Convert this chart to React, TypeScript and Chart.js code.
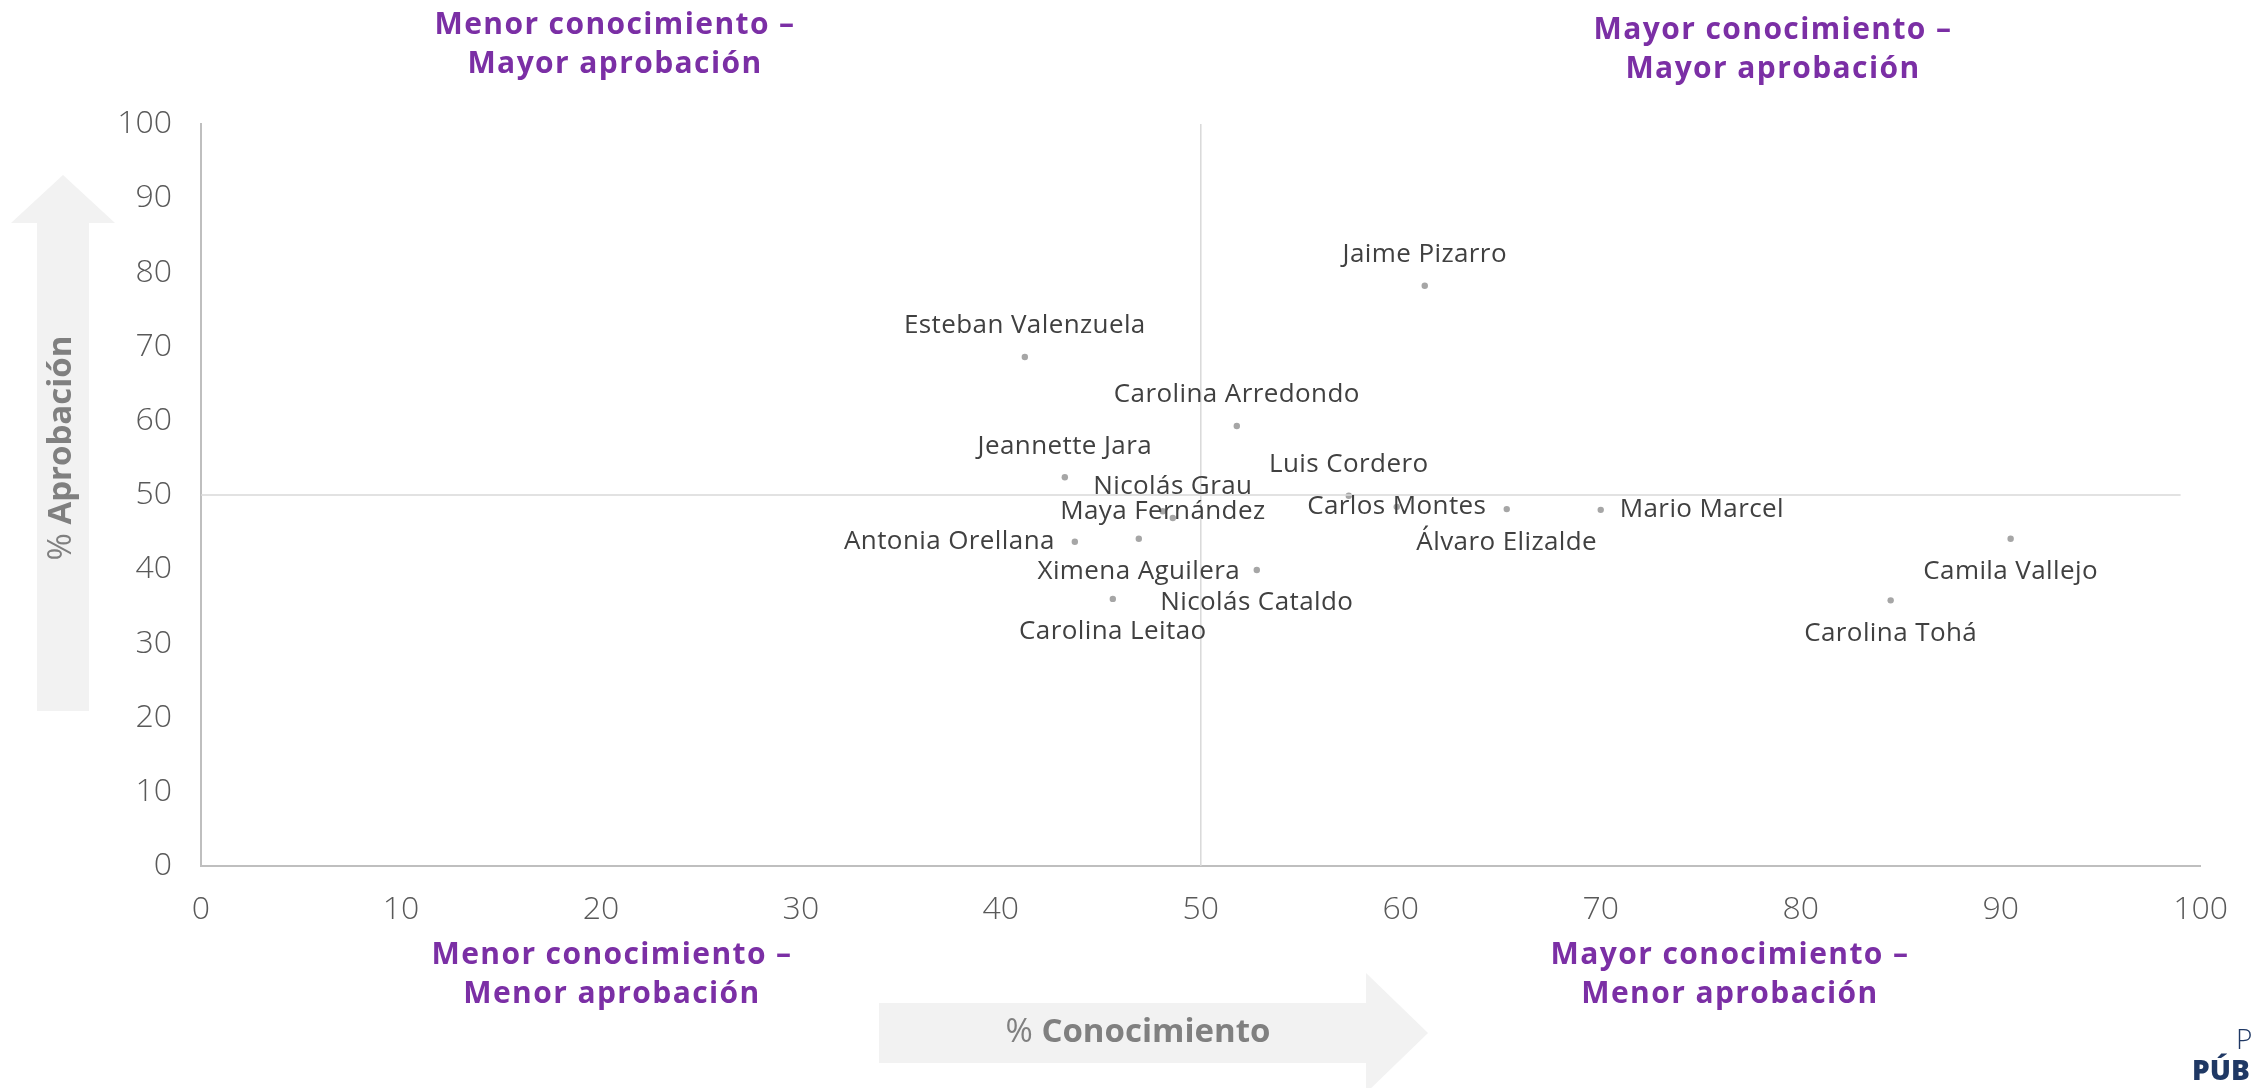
import React, { useEffect, useRef } from "react";
import { Chart, registerables } from "chart.js";

Chart.register(...registerables);

// ---- Data ----
const names = [
  "Jaime Pizarro",
  "Esteban Valenzuela",
  "Carolina Arredondo",
  "Jeannette Jara",
  "Luis Cordero",
  "Nicolás Grau",
  "Maya Fernández",
  "Carlos Montes",
  "Álvaro Elizalde",
  "Mario Marcel",
  "Antonia Orellana",
  "Ximena Aguilera",
  "Nicolás Cataldo",
  "Carolina Leitao",
  "Camila Vallejo",
  "Carolina Tohá",
];
const conocimiento = [61.2, 41.2, 51.8, 43.2, 57.4, 48.6, 48.1, 59.8, 65.3, 70.0, 43.7, 46.9, 52.8, 45.6, 90.5, 84.5];
const aprobacion = [78.2, 68.6, 59.3, 52.4, 49.9, 46.9, 47.8, 48.4, 48.1, 48.0, 43.7, 44.1, 39.9, 36.0, 44.1, 35.8];
// label placement relative to its point
const labelPlacement = [
  "above", "above", "above", "above", "above", "above", "center", "center",
  "below", "right", "left", "below", "below", "below", "below", "below",
];

const axisMin = 0;
const axisMax = 100;
const tickStep = 10;

const dividerVerticalX = [50, 50];
const dividerVerticalY = [0, 100];
const dividerHorizontalX = [0, 99];
const dividerHorizontalY = [50, 50];

const quadrantTopLeft = ["Menor conocimiento –", "Mayor aprobación"];
const quadrantTopRight = ["Mayor conocimiento –", "Mayor aprobación"];
const quadrantBottomLeft = ["Menor conocimiento –", "Menor aprobación"];
const quadrantBottomRight = ["Mayor conocimiento –", "Menor aprobación"];
const yAxisTitle = ["% ", "Aprobación"];
const xAxisTitle = ["% ", "Conocimiento"];
const logoLines = ["P", "PÚB"];

const W = 2253;
const H = 1088;

const PURPLE = "#7B2FA5";
const ARROW = "#F2F2F2";

export default function App() {
  const ref = useRef<HTMLCanvasElement | null>(null);

  useEffect(() => {
    const canvas = ref.current;
    if (!canvas) return;

    const decor = {
      id: "decor",
      beforeDraw(chart: any) {
        const ctx = chart.ctx;
        ctx.save();
        ctx.fillStyle = "#FFFFFF";
        ctx.fillRect(0, 0, W, H);
        // up arrow
        ctx.fillStyle = ARROW;
        ctx.beginPath();
        ctx.moveTo(37, 711);
        ctx.lineTo(37, 223);
        ctx.lineTo(11, 223);
        ctx.lineTo(63, 175);
        ctx.lineTo(115, 223);
        ctx.lineTo(89, 223);
        ctx.lineTo(89, 711);
        ctx.closePath();
        ctx.fill();
        // right arrow
        ctx.beginPath();
        ctx.moveTo(879, 1003);
        ctx.lineTo(1366, 1003);
        ctx.lineTo(1366, 973);
        ctx.lineTo(1428, 1033);
        ctx.lineTo(1366, 1093);
        ctx.lineTo(1366, 1063);
        ctx.lineTo(879, 1063);
        ctx.closePath();
        ctx.fill();

        const drawMixed = (parts: string[], cx: number, cy: number) => {
          ctx.textBaseline = "middle";
          ctx.textAlign = "left";
          ctx.font = "400 33px 'Open Sans'";
          const w1 = ctx.measureText(parts[0]).width;
          ctx.font = "700 33px 'Open Sans'";
          const w2 = ctx.measureText(parts[1]).width;
          const start = cx - (w1 + w2) / 2;
          ctx.fillStyle = "#808080";
          ctx.font = "400 33px 'Open Sans'";
          ctx.fillText(parts[0], start, cy);
          ctx.font = "700 33px 'Open Sans'";
          ctx.fillText(parts[1], start + w1, cy);
        };
        // y title rotated
        ctx.save();
        ctx.translate(62, 448);
        ctx.rotate(-Math.PI / 2);
        drawMixed(yAxisTitle, 0, 0);
        ctx.restore();
        drawMixed(xAxisTitle, 1138, 1033);
        ctx.restore();
      },
      afterDatasetsDraw(chart: any) {
        const ctx = chart.ctx;
        const xs = chart.scales.x;
        const ys = chart.scales.y;
        ctx.save();
        ctx.font = "400 26px 'Open Sans'";
        try {
          (ctx as any).letterSpacing = "0.4px";
        } catch (e) {}
        ctx.fillStyle = "#404040";
        ctx.textBaseline = "middle";
        names.forEach((n, i) => {
          const px = xs.getPixelForValue(conocimiento[i]);
          const py = ys.getPixelForValue(aprobacion[i]);
          const p = labelPlacement[i];
          let x = px;
          let y = py;
          ctx.textAlign = "center";
          if (p === "above") y = py - 31;
          else if (p === "below") y = py + 33;
          else if (p === "left") {
            ctx.textAlign = "right";
            x = px - 20;
          } else if (p === "right") {
            ctx.textAlign = "left";
            x = px + 19;
          }
          ctx.fillText(n, x, y);
        });
        ctx.restore();
      },
      afterDraw(chart: any) {
        const ctx = chart.ctx;
        ctx.save();
        ctx.fillStyle = PURPLE;
        ctx.font = "700 30px 'Open Sans'";
        try {
          (ctx as any).letterSpacing = "1.4px";
        } catch (e) {}
        ctx.textAlign = "center";
        ctx.textBaseline = "middle";
        const two = (lines: string[], cx: number, y1: number, y2: number) => {
          ctx.fillText(lines[0], cx, y1);
          ctx.fillText(lines[1], cx, y2);
        };
        two(quadrantTopLeft, 615, 25, 64);
        two(quadrantTopRight, 1773, 30, 69);
        two(quadrantBottomLeft, 612, 955, 994);
        two(quadrantBottomRight, 1730, 955, 994);
        try {
          (ctx as any).letterSpacing = "0px";
        } catch (e) {}
        // logo fragment
        ctx.fillStyle = "#1F3864";
        ctx.textAlign = "left";
        ctx.font = "300 28px 'Open Sans'";
        ctx.fillText(logoLines[0], 2236, 1041);
        ctx.font = "800 28px 'Open Sans'";
        ctx.fillText(logoLines[1], 2192, 1072);
        ctx.restore();
      },
    };

    const tickFont = { family: "'Open Sans'", size: 32, weight: 300 as any };

    const chart = new Chart(canvas, {
      type: "scatter",
      data: {
        datasets: [
          {
            data: dividerVerticalX.map((x, i) => ({ x, y: dividerVerticalY[i] })),
            showLine: true,
            borderColor: "#D9D9D9",
            borderWidth: 1.5,
            pointRadius: 0,
          },
          {
            data: dividerHorizontalX.map((x, i) => ({ x, y: dividerHorizontalY[i] })),
            showLine: true,
            borderColor: "#D9D9D9",
            borderWidth: 1.5,
            pointRadius: 0,
          },
          {
            data: conocimiento.map((x, i) => ({ x, y: aprobacion[i] })),
            backgroundColor: "#A6A6A6",
            borderWidth: 0,
            pointRadius: 3.2,
          },
        ],
      },
      options: {
        responsive: false,
        animation: false,
        devicePixelRatio: 1,
        layout: { padding: { top: 124, right: 47, left: 0, bottom: 0 } },
        plugins: { legend: { display: false }, tooltip: { enabled: false } },
        scales: {
          x: {
            type: "linear",
            min: axisMin,
            max: axisMax,
            grid: { display: false, drawTicks: false },
            border: { display: true, color: "#BFBFBF", width: 2 },
            ticks: { stepSize: tickStep, color: "#595959", font: tickFont, padding: 25, maxRotation: 0 },
            afterFit: (s: any) => {
              s.height = 222;
            },
          },
          y: {
            type: "linear",
            min: axisMin,
            max: axisMax,
            grid: { display: false, drawTicks: false },
            border: { display: true, color: "#BFBFBF", width: 2 },
            ticks: { stepSize: tickStep, color: "#595959", font: tickFont, padding: 29 },
            afterFit: (s: any) => {
              s.width = 201;
            },
          },
        },
      },
      plugins: [decor],
    });
    return () => chart.destroy();
  }, []);

  return (
    <div style={{ position: "fixed", left: 0, top: 0, width: W, height: H, overflow: "hidden" }}>
      <canvas ref={ref} width={W} height={H} style={{ width: W, height: H, display: "block" }} />
    </div>
  );
}
